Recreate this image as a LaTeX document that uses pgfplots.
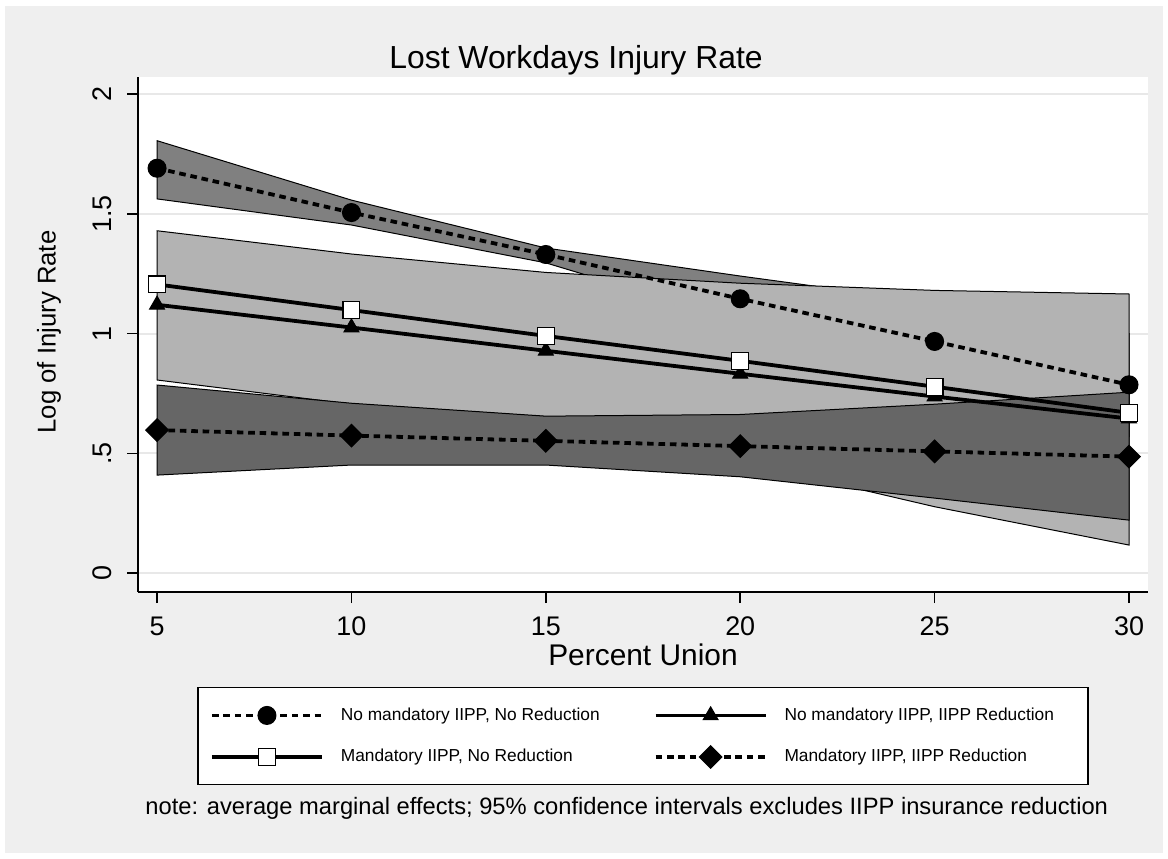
\documentclass[border=0pt]{standalone}
\usepackage{fontspec}
\setmainfont{Liberation Sans}
\usepackage{pgfplots}
\pgfplotsset{compat=1.18}
\definecolor{bgg}{RGB}{239,239,239}
\definecolor{gridc}{RGB}{232,232,232}
\definecolor{bandA}{RGB}{128,128,128}
\definecolor{bandB}{RGB}{179,179,179}
\definecolor{bandC}{RGB}{102,102,102}
\begin{document}
\begin{tikzpicture}[x=0.5bp,y=0.5bp]
\fill[white] (0,0) rectangle (1168,858);
\fill[bgg] (5,5) rectangle (1163,852);
\begin{axis}[at={(69bp,133bp)}, anchor=south west, scale only axis,
 width=505bp, height=257.5bp,
 xmin=4.51, xmax=30.49, ymin=-0.079, ymax=2.071,
 axis x line*=bottom, axis y line*=left,
 axis line style={line width=0.8bp, -},
 axis background/.style={fill=white},
 xtick={5,10,...,30}, ytick={0,0.5,1,1.5,2}, yticklabels={0,.5,1,1.5,2},
 tick align=outside, major tick length=5.5bp, tick style={line width=0.8bp, black},
 ymajorgrids, grid style={gridc, line width=1bp},
 ticklabel style={font=\fontsize{13.5}{16}\selectfont},
 /pgf/number format/assume math mode=true,
 yticklabel style={rotate=90, anchor=south, inner ysep=7.5bp},
 xticklabel style={yshift=-3.5bp},
 legend columns=2, legend cell align=left,
 legend style={at={(0.5,-0.28)}, anchor=center, draw=black, line width=0.6bp, fill=white,
   font=\fontsize{8.7}{10}\selectfont,
   /tikz/every odd column/.append style={column sep=6.5bp},
   /tikz/every even column/.append style={column sep=25bp},
   row sep=9bp, inner xsep=6bp, inner ysep=8bp},
 legend image code/.code={\draw[mark repeat=2, mark phase=2, #1] plot coordinates {(0bp,0bp) (27.5bp,0bp) (55bp,0bp)};},
]
% bands
\addplot[forget plot, fill=bandA, draw=black, line width=0.5bp] coordinates {
 (5,1.805) (10,1.557) (15,1.357) (20,1.240) (25,1.13) (30,1.00)
 (30,0.57) (25,0.81) (20,1.05) (15,1.295) (10,1.453) (5,1.562)} -- cycle;
\addplot[forget plot, fill=bandB, draw=black, line width=0.5bp] coordinates {
 (5,1.429) (10,1.332) (15,1.255) (20,1.21) (25,1.18) (30,1.165)
 (30,0.117) (25,0.277) (20,0.466) (15,0.653) (10,0.705) (5,0.806)} -- cycle;
\addplot[forget plot, fill=bandC, draw=black, line width=0.5bp] coordinates {
 (5,0.785) (10,0.709) (15,0.655) (20,0.662) (25,0.705) (30,0.755)
 (30,0.221) (25,0.313) (20,0.402) (15,0.451) (10,0.451) (5,0.409)} -- cycle;
% series
\addplot[black, line width=1.9bp, dash pattern=on 3.3bp off 2.4bp, mark=*, mark size=4.5bp,
  mark options={solid, fill=black, line width=0.5bp}] coordinates {
 (5,1.69) (10,1.505) (15,1.33) (20,1.145) (25,0.967) (30,0.786)};
\addlegendentry{No mandatory IIPP, No Reduction}
\addplot[black, line width=1.9bp, mark=triangle*, mark size=4.3bp,
  mark options={solid, fill=black, line width=0.5bp}] coordinates {
 (5,1.12) (10,1.025) (15,0.928) (20,0.832) (25,0.737) (30,0.645)};
\addlegendentry{No mandatory IIPP, IIPP Reduction\hspace*{9bp}}
\addplot[black, line width=1.9bp, mark=square*, mark size=4.2bp,
  mark options={solid, fill=white, draw=black, line width=0.6bp}] coordinates {
 (5,1.205) (10,1.098) (15,0.99) (20,0.886) (25,0.778) (30,0.669)};
\addlegendentry{Mandatory IIPP, No Reduction}
\addplot[black, line width=1.9bp, dash pattern=on 3.3bp off 2.4bp, mark=square*, mark size=4bp,
  mark options={solid, rotate=45, fill=black, line width=0.5bp}] coordinates {
 (5,0.597) (10,0.574) (15,0.552) (20,0.530) (25,0.508) (30,0.486)};
\addlegendentry{Mandatory IIPP, IIPP Reduction}
\end{axis}
\node[font=\fontsize{16}{19}\selectfont] at (576,798) {Lost Workdays Injury Rate};
\node[font=\fontsize{15}{18}\selectfont] at (643,203) {Percent Union};
\node[font=\fontsize{12.9}{15}\selectfont, rotate=90] at (49,526) {Log of Injury Rate};
\node[font=\fontsize{11.9}{14}\selectfont, anchor=west, inner sep=0pt] at (145,50) {note: average marginal effects; 95\% confidence intervals excludes IIPP insurance reduction};
\end{tikzpicture}
\end{document}
